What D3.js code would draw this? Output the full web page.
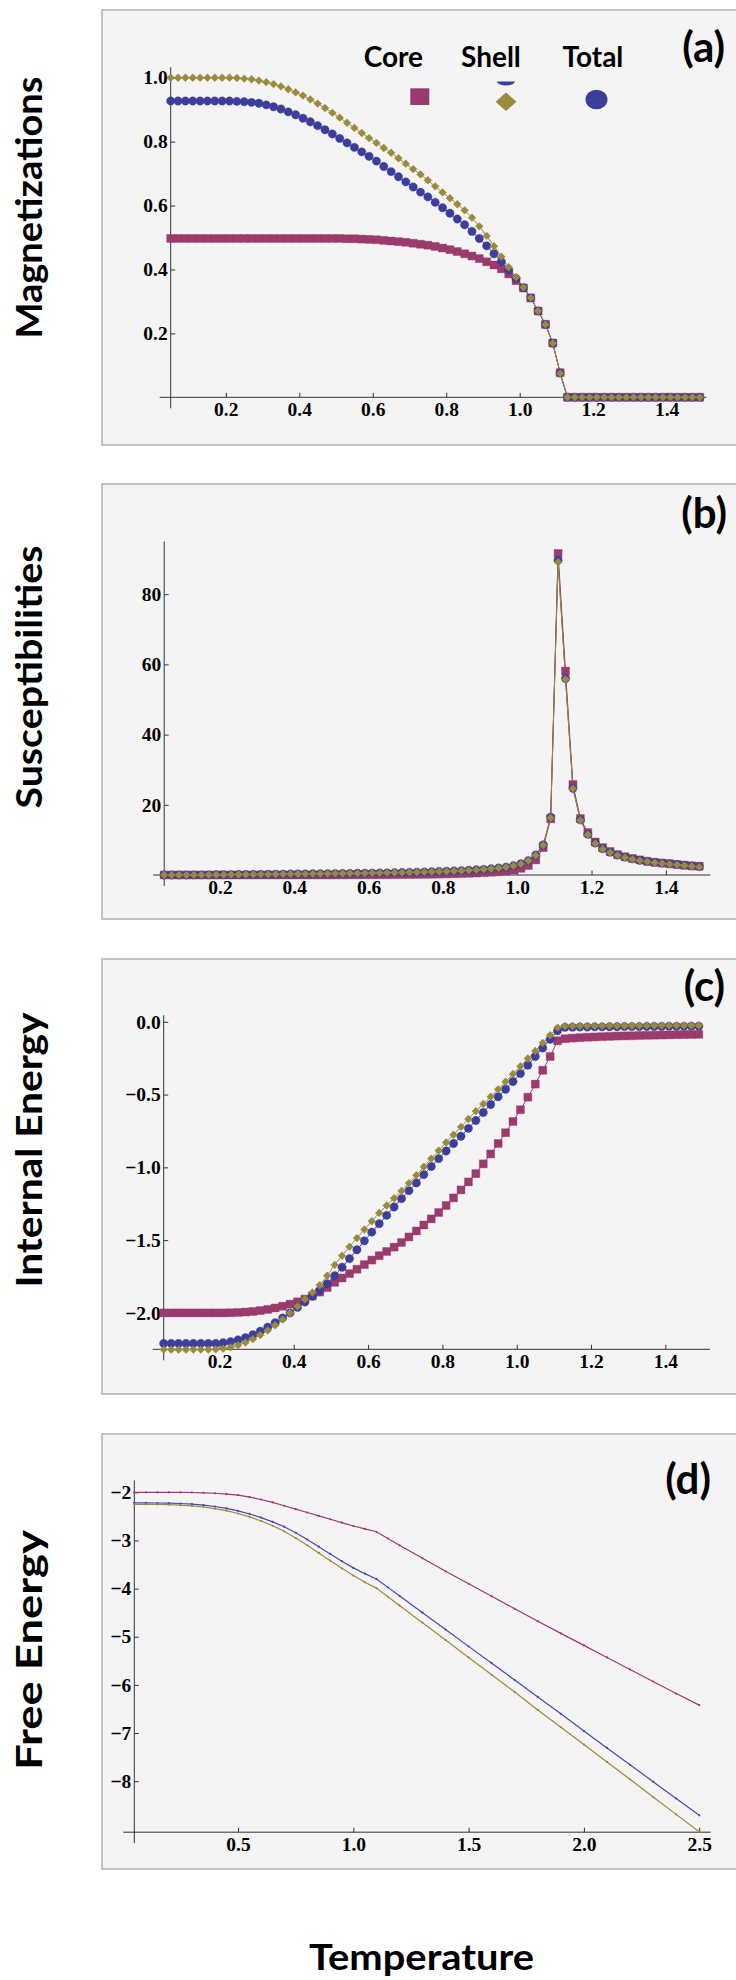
<!DOCTYPE html>
<html lang="en">
<head>
<meta charset="utf-8">
<title>Core / Shell / Total vs Temperature</title>
<script src="https://cdn.jsdelivr.net/npm/d3@7"></script>
<style>
  body { margin: 0; background: #ffffff; }
  svg { display: block; }
</style>
</head>
<body>
<script>

var w = 736;
var h = 1980;

// temperatures of the symbol plots (a)-(c)
var temps = [0.05,0.07,0.09,0.11,0.13,0.15,0.17,0.19,0.21,0.23,
    0.25,0.27,0.29,0.31,0.33,0.35,0.37,0.39,0.41,0.43,
    0.45,0.47,0.49,0.51,0.53,0.55,0.57,0.59,0.61,0.63,
    0.65,0.67,0.69,0.71,0.73,0.75,0.77,0.79,0.81,0.83,
    0.85,0.87,0.89,0.91,0.93,0.95,0.97,0.99,1.01,1.03,
    1.05,1.07,1.09,1.11,1.13,1.15,1.17,1.19,1.21,1.23,
    1.25,1.27,1.29,1.31,1.33,1.35,1.37,1.39,1.41,1.43,
    1.45,1.47,1.49];

// (a) magnetizations
var magCore = [0.497,0.497,0.497,0.497,0.497,0.497,0.497,0.497,0.497,0.497,
    0.497,0.497,0.497,0.497,0.497,0.497,0.497,0.497,0.497,0.497,
    0.497,0.497,0.497,0.497,0.496,0.496,0.495,0.494,0.493,0.491,
    0.489,0.487,0.485,0.482,0.479,0.476,0.472,0.467,0.462,0.456,
    0.449,0.442,0.434,0.424,0.414,0.402,0.386,0.365,0.342,0.311,
    0.27,0.228,0.17,0.077,0,0,0,0,0,0,
    0,0,0,0,0,0,0,0,0,0,
    0,0,0];
var magShell = [1,1,1,1,1,1,1,1,1,0.999,
    0.997,0.995,0.991,0.986,0.98,0.973,0.964,0.954,0.944,0.932,
    0.919,0.905,0.89,0.875,0.859,0.843,0.827,0.811,0.796,0.78,
    0.765,0.748,0.731,0.714,0.697,0.679,0.66,0.641,0.623,0.604,
    0.585,0.562,0.535,0.505,0.473,0.44,0.407,0.376,0.344,0.311,
    0.27,0.228,0.169,0.075,0,0,0,0,0,0,
    0,0,0,0,0,0,0,0,0,0,
    0,0,0];
var magTotal = [0.927,0.927,0.927,0.927,0.927,0.927,0.927,0.927,0.927,0.926,
    0.925,0.923,0.92,0.915,0.909,0.902,0.893,0.884,0.873,0.862,
    0.85,0.837,0.824,0.81,0.796,0.782,0.768,0.754,0.739,0.722,
    0.706,0.69,0.674,0.658,0.642,0.627,0.61,0.593,0.576,0.558,
    0.54,0.519,0.497,0.474,0.449,0.424,0.398,0.372,0.343,0.311,
    0.27,0.228,0.169,0.076,0,0,0,0,0,0,
    0,0,0,0,0,0,0,0,0,0,
    0,0,0];

// (b) susceptibilities
var chiCore = [0,0,0,0,0,0,0,0,0,0,
    0,0,0,0,0,0,0,0,0,0,
    0,0,0,0.01,0.02,0.03,0.04,0.05,0.06,0.07,
    0.08,0.1,0.12,0.14,0.16,0.19,0.22,0.26,0.3,0.35,
    0.41,0.48,0.56,0.66,0.78,0.92,1.1,1.4,1.9,2.7,
    4.3,7.8,16.0,91.6,58.1,25.8,16.1,12.1,9.4,7.8,
    6.7,5.8,5.2,4.7,4.3,3.9,3.6,3.4,3.2,3.0,
    2.8,2.6,2.5];
var chiShell = [0,0,0,0.01,0.02,0.03,0.05,0.07,0.09,0.11,
    0.13,0.15,0.17,0.19,0.21,0.23,0.25,0.27,0.29,0.31,
    0.34,0.36,0.38,0.4,0.42,0.45,0.48,0.51,0.54,0.57,
    0.61,0.65,0.69,0.74,0.79,0.85,0.91,0.98,1.06,1.15,
    1.24,1.35,1.47,1.61,1.78,1.98,2.24,2.63,3.15,4.05,
    5.6,8.5,16.3,89.1,55.8,24.6,15.6,11.5,9.0,7.4,
    6.4,5.6,5.0,4.5,4.1,3.8,3.5,3.3,3.1,2.9,
    2.7,2.5,2.3];
var chiTotal = [0,0,0,0.01,0.02,0.03,0.05,0.07,0.09,0.11,
    0.13,0.15,0.17,0.19,0.21,0.23,0.25,0.27,0.29,0.32,
    0.35,0.37,0.39,0.41,0.43,0.46,0.49,0.52,0.55,0.58,
    0.62,0.66,0.7,0.75,0.8,0.86,0.92,0.99,1.07,1.16,
    1.25,1.36,1.48,1.62,1.79,1.99,2.25,2.65,3.2,4.1,
    5.7,8.6,16.5,89.7,56.0,24.7,15.7,11.6,9.1,7.5,
    6.5,5.7,5.1,4.6,4.2,3.9,3.6,3.4,3.2,3.0,
    2.8,2.6,2.4];

// (c) internal energy
var energyCore = [-2,-2,-2,-2,-2,-2,-2,-2,-2,-1.999,
    -1.997,-1.994,-1.99,-1.984,-1.976,-1.966,-1.954,-1.94,-1.924,-1.905,
    -1.883,-1.857,-1.826,-1.79,-1.76,-1.73,-1.7,-1.668,-1.637,-1.607,
    -1.578,-1.548,-1.516,-1.478,-1.437,-1.396,-1.354,-1.31,-1.262,-1.21,
    -1.155,-1.1,-1.043,-0.976,-0.908,-0.836,-0.762,-0.685,-0.604,-0.518,
    -0.428,-0.333,-0.238,-0.13,-0.116,-0.112,-0.109,-0.106,-0.104,-0.102,
    -0.1,-0.098,-0.097,-0.096,-0.094,-0.093,-0.092,-0.091,-0.09,-0.089,
    -0.088,-0.087,-0.086];
var energyShell = [-2.252,-2.252,-2.252,-2.252,-2.252,-2.252,-2.252,-2.25,-2.245,-2.236,
    -2.222,-2.203,-2.18,-2.152,-2.12,-2.085,-2.046,-2.0,-1.955,-1.906,
    -1.86,-1.81,-1.745,-1.67,-1.607,-1.546,-1.486,-1.427,-1.37,-1.313,
    -1.262,-1.212,-1.162,-1.108,-1.054,-0.996,-0.94,-0.885,-0.829,-0.776,
    -0.722,-0.668,-0.614,-0.564,-0.515,-0.464,-0.412,-0.358,-0.305,-0.252,
    -0.2,-0.146,-0.092,-0.04,-0.03,-0.029,-0.029,-0.028,-0.028,-0.028,
    -0.027,-0.027,-0.027,-0.027,-0.026,-0.026,-0.026,-0.026,-0.026,-0.025,
    -0.025,-0.025,-0.025];
var energyTotal = [-2.21,-2.21,-2.21,-2.21,-2.21,-2.21,-2.21,-2.21,-2.205,-2.198,
    -2.185,-2.17,-2.15,-2.125,-2.098,-2.068,-2.035,-2.0,-1.962,-1.925,
    -1.886,-1.846,-1.8,-1.745,-1.686,-1.627,-1.566,-1.505,-1.445,-1.387,
    -1.33,-1.272,-1.215,-1.16,-1.107,-1.05,-0.994,-0.94,-0.888,-0.836,
    -0.786,-0.732,-0.678,-0.623,-0.568,-0.515,-0.463,-0.41,-0.356,-0.298,
    -0.238,-0.18,-0.121,-0.062,-0.038,-0.037,-0.036,-0.036,-0.035,-0.035,
    -0.034,-0.034,-0.033,-0.033,-0.033,-0.032,-0.032,-0.032,-0.031,-0.031,
    -0.031,-0.03,-0.03];

// (d) free energy, drawn as lines
var freeTemps = [0.05,0.1,0.15,0.2,0.25,0.3,0.35,0.4,0.45,0.5,
    0.55,0.6,0.65,0.7,0.75,0.8,0.85,0.9,0.95,1.0,
    1.05,1.1,1.15,1.2,1.3,1.4,1.5,1.6,1.7,1.8,
    1.9,2.0,2.1,2.2,2.3,2.4,2.5];
var freeCore = [-2.0,-2.0,-2.0,-2.0,-2.001,-2.004,-2.01,-2.02,-2.036,-2.06,
    -2.1,-2.15,-2.21,-2.28,-2.35,-2.42,-2.49,-2.56,-2.63,-2.7,
    -2.76,-2.82,-2.96,-3.1,-3.37,-3.64,-3.9,-4.16,-4.42,-4.68,
    -4.93,-5.18,-5.43,-5.68,-5.93,-6.18,-6.42];
var freeShell = [-2.25,-2.25,-2.252,-2.257,-2.266,-2.282,-2.305,-2.338,-2.382,-2.44,
    -2.51,-2.595,-2.695,-2.81,-2.95,-3.1,-3.26,-3.42,-3.58,-3.73,
    -3.87,-3.99,-4.17,-4.35,-4.71,-5.07,-5.43,-5.79,-6.15,-6.52,
    -6.88,-7.24,-7.6,-7.96,-8.33,-8.69,-9.05];
var freeTotal = [-2.22,-2.22,-2.222,-2.226,-2.233,-2.245,-2.265,-2.295,-2.335,-2.385,
    -2.45,-2.525,-2.615,-2.715,-2.84,-2.98,-3.13,-3.28,-3.43,-3.57,
    -3.69,-3.8,-3.975,-4.15,-4.5,-4.85,-5.2,-5.55,-5.9,-6.25,
    -6.6,-6.96,-7.31,-7.66,-8.01,-8.36,-8.71];

// ticks and texts
var tempTicks = [0.2, 0.4, 0.6, 0.8, 1.0, 1.2, 1.4];
var freeTempTicks = [0.5, 1.0, 1.5, 2.0, 2.5];
var magTicks = [0.2, 0.4, 0.6, 0.8, 1.0];
var chiTicks = [20, 40, 60, 80];
var energyTicks = [0.0, -0.5, -1.0, -1.5, -2.0];
var freeTicks = [-2, -3, -4, -5, -6, -7, -8];
var yTitles = ["Magnetizations", "Susceptibilities", "Internal Energy", "Free Energy"];
var panelTags = ["(a)", "(b)", "(c)", "(d)"];
var legendNames = ["Core", "Shell", "Total"];

var coreColor = "#9b3a6c";
var shellColor = "#9a8a3c";
var totalColor = "#3d3d9b";

[magCore, magShell, magTotal, chiCore, chiShell, chiTotal, energyCore, energyShell, energyTotal]
    .forEach(function (a, i) {
        if (a.length !== temps.length) throw new Error("series " + i + " has " + a.length);
    });
[freeCore, freeShell, freeTotal].forEach(function (a, i) {
    if (a.length !== freeTemps.length) throw new Error("free series " + i + " has " + a.length);
});

var svg = d3.select("body")
    .append("svg")
    .attr("width", w)
    .attr("height", h);

var labelFont = "Lato, 'Open Sans', sans-serif";
var tickFont = "'Liberation Serif', 'Times New Roman', serif";

function minorRange(start, stop, step, majors) {
    return d3.range(start, stop + step / 2, step).filter(function (v) {
        return !majors.some(function (m) { return Math.abs(m - v) < step / 10; });
    });
}

function drawPanel(p) {
    var x = d3.scaleLinear().domain(p.xDomain).range(p.xRange);
    var y = d3.scaleLinear().domain(p.yDomain).range(p.yRange);
    var g = svg.append("g");

    // grey frame of the panel (runs off the right edge)
    g.append("rect")
        .attr("x", 102)
        .attr("y", p.top)
        .attr("width", w)
        .attr("height", p.bottom - p.top)
        .attr("fill", "#f4f4f4")
        .attr("stroke", "#c2c2c2")
        .attr("stroke-width", 2);

    var x0 = x(p.xDomain[0]);
    var yBase = y(p.yDomain[0]);

    // x axis
    var xa = g.append("g").attr("transform", "translate(0," + yBase + ")");
    xa.call(d3.axisBottom(x).tickValues(p.xMinor).tickSize(-2.5).tickFormat(""));
    xa.call(d3.axisBottom(x).tickValues(p.xTicks).tickSize(-4.5).tickPadding(5)
        .tickFormat(d3.format(p.xFormat)));
    xa.selectAll(".domain").remove();
    xa.append("line")
        .attr("x1", x0 - 11).attr("x2", x(p.xEnd))
        .attr("stroke", "#333").attr("stroke-width", 1);

    // y axis
    var ya = g.append("g").attr("transform", "translate(" + x0 + ",0)");
    ya.call(d3.axisLeft(y).tickValues(p.yMinor).tickSize(-2.5).tickFormat(""));
    ya.call(d3.axisLeft(y).tickValues(p.yTicks).tickSize(-4.5).tickPadding(3)
        .tickFormat(d3.format(p.yFormat)));
    ya.selectAll(".domain").remove();
    ya.append("line")
        .attr("y1", yBase + 11).attr("y2", y(p.yTop))
        .attr("stroke", "#333").attr("stroke-width", 1);

    [xa, ya].forEach(function (a) {
        a.attr("font-family", tickFont).attr("font-size", 19.5).attr("font-weight", "bold");
        a.selectAll(".tick line").attr("stroke", "#333");
        a.selectAll(".tick text").attr("fill", "#000");
    });

    // series
    p.series.forEach(function (s) {
        var pts = s.values.map(function (v, i) { return [p.temps[i], v]; });
        g.append("path")
            .datum(pts)
            .attr("fill", "none")
            .attr("stroke", s.color)
            .attr("stroke-width", p.lineWidth)
            .attr("d", d3.line()
                .x(function (d) { return x(d[0]); })
                .y(function (d) { return y(d[1]); }));
    });

    p.series.forEach(function (s) {
        if (!s.shape) return;
        var pts = s.values.map(function (v, i) { return [p.temps[i], v]; });
        var sym = d3.symbol()
            .type(s.shape === "circle" ? d3.symbolCircle : d3.symbolSquare)
            .size(s.shape === "circle" ? 55 : (s.shape === "square" ? 64 : 31));
        g.append("g").selectAll("path")
            .data(pts)
            .enter()
            .append("path")
            .attr("d", sym)
            .attr("transform", function (d) {
                return "translate(" + x(d[0]) + "," + y(d[1]) + ")" +
                    (s.shape === "diamond" ? " rotate(45)" : "");
            })
            .attr("fill", s.color)
            .attr("stroke", s.color)
            .attr("stroke-opacity", 0.45)
            .attr("stroke-width", 0.8);
    });

    if (p.dots) {
        p.series.forEach(function (s) {
            g.append("g").selectAll("circle")
                .data(s.values)
                .enter()
                .append("circle")
                .attr("cx", function (d, i) { return x(p.temps[i]); })
                .attr("cy", function (d) { return y(d); })
                .attr("r", 1.1)
                .attr("fill", s.color);
        });
    }

    // panel tag
    g.append("text")
        .text(p.tag)
        .attr("x", p.tagX)
        .attr("y", p.tagY)
        .attr("text-anchor", "end")
        .attr("font-family", labelFont)
        .attr("font-weight", "bold")
        .attr("font-size", 42)
        .attr("fill", "#000");

    // y title, rotated
    g.append("text")
        .text(p.title)
        .attr("transform", "translate(41.7," + p.titleY + ") rotate(-90)")
        .attr("text-anchor", "middle")
        .attr("textLength", p.titleLength)
        .attr("lengthAdjust", "spacingAndGlyphs")
        .attr("font-family", labelFont)
        .attr("font-weight", "bold")
        .attr("font-size", 37)
        .attr("fill", "#000");
}

var symbolSeries = function (core, shell, total) {
    return [
        { values: core, color: coreColor, shape: "square" },
        { values: total, color: totalColor, shape: "circle" },
        { values: shell, color: shellColor, shape: "diamond" }
    ];
};

drawPanel({
    top: 10, bottom: 445, temps: temps,
    xDomain: [0.05, 1.5], xRange: [170.7, 703.4], xEnd: 1.508,
    yDomain: [0, 1], yRange: [397.3, 77.7], yTop: 1.033,
    xTicks: tempTicks, xMinor: minorRange(0.05, 1.5, 0.05, tempTicks), xFormat: ".1f",
    yTicks: magTicks, yMinor: minorRange(0.05, 1.0, 0.05, magTicks), yFormat: ".1f",
    series: symbolSeries(magCore, magShell, magTotal), lineWidth: 1,
    tag: panelTags[0], tagX: 725, tagY: 62,
    title: yTitles[0], titleY: 207.5, titleLength: 262
});

drawPanel({
    top: 484, bottom: 919, temps: temps,
    xDomain: [0.05, 1.5], xRange: [164.2, 703.0], xEnd: 1.52,
    yDomain: [0, 80], yRange: [875, 594.2], yTop: 95,
    xTicks: tempTicks, xMinor: minorRange(0.05, 1.5, 0.05, tempTicks), xFormat: ".1f",
    yTicks: chiTicks, yMinor: minorRange(5, 90, 5, chiTicks), yFormat: "d",
    series: symbolSeries(chiCore, chiShell, chiTotal), lineWidth: 1,
    tag: panelTags[1], tagX: 727, tagY: 528,
    title: yTitles[1], titleY: 677, titleLength: 263
});

drawPanel({
    top: 959, bottom: 1394, temps: temps,
    xDomain: [0.05, 1.5], xRange: [163.7, 702.5], xEnd: 1.52,
    yDomain: [-2.25, 0], yRange: [1349.3, 1021.8], yTop: 0.045,
    xTicks: tempTicks, xMinor: minorRange(0.05, 1.5, 0.05, tempTicks), xFormat: ".1f",
    yTicks: energyTicks, yMinor: minorRange(-2.2, 0, 0.1, energyTicks), yFormat: ".1f",
    series: symbolSeries(energyCore, energyShell, energyTotal), lineWidth: 1,
    tag: panelTags[2], tagX: 725, tagY: 1001,
    title: yTitles[2], titleY: 1150, titleLength: 275
});

drawPanel({
    top: 1434, bottom: 1869, temps: freeTemps,
    xDomain: [0.05, 2.5], xRange: [134.3, 699.2], xEnd: 2.55,
    yDomain: [-9.06, -2], yRange: [1832.2, 1492.3], yTop: -1.75,
    xTicks: freeTempTicks, xMinor: minorRange(0.1, 2.5, 0.1, freeTempTicks), xFormat: ".1f",
    yTicks: freeTicks, yMinor: minorRange(-9.0, -1.8, 0.2, freeTicks), yFormat: "d",
    series: [
        { values: freeCore, color: coreColor },
        { values: freeTotal, color: "#4646b8" },
        { values: freeShell, color: shellColor }
    ],
    lineWidth: 1.2, dots: true,
    tag: panelTags[3], tagX: 711, tagY: 1494,
    title: yTitles[3], titleY: 1650, titleLength: 240
});

// legend of panel (a)
var legendX = [363.7, 461, 562.5];
svg.append("g").selectAll("text")
    .data(legendNames)
    .enter()
    .append("text")
    .text(function (d) { return d; })
    .attr("x", function (d, i) { return legendX[i]; })
    .attr("y", 66.7)
    .attr("font-family", labelFont)
    .attr("font-weight", "bold")
    .attr("font-size", 28)
    .attr("fill", "#000");

var lg = svg.append("g");
lg.append("rect")
    .attr("x", 410.3).attr("y", 88.3)
    .attr("width", 19).attr("height", 16.7)
    .attr("fill", coreColor);
lg.append("path")
    .attr("d", "M497,81.5 A9,4 0 0 0 515,81.5 Z")
    .attr("fill", totalColor);
lg.append("path")
    .attr("d", "M495.5,101.7 L506,92.5 L516.5,101.7 L506,110.9 Z")
    .attr("fill", shellColor);
lg.append("ellipse")
    .attr("cx", 596.5).attr("cy", 99.5)
    .attr("rx", 11).attr("ry", 9.8)
    .attr("fill", totalColor);

// common x title
svg.append("text")
    .text("Temperature")
    .attr("x", 421.5)
    .attr("y", 1970)
    .attr("text-anchor", "middle")
    .attr("textLength", 225)
    .attr("lengthAdjust", "spacingAndGlyphs")
    .attr("font-family", labelFont)
    .attr("font-weight", "bold")
    .attr("font-size", 37)
    .attr("fill", "#000");

</script>
</body>
</html>
